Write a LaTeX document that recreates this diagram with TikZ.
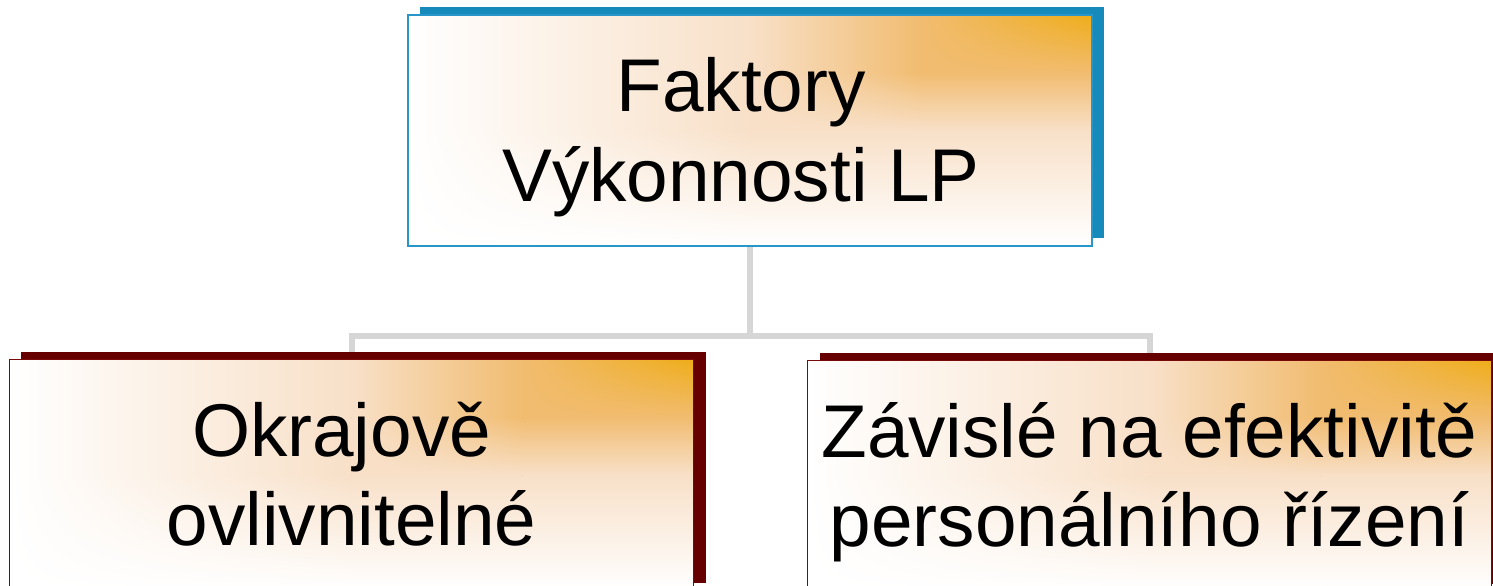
\documentclass[tikz,border=0pt]{standalone}
\usepackage{fontspec}
\setmainfont{Liberation Sans}
\usetikzlibrary{calc,shadows,shadings,backgrounds}

\definecolor{blueshade}{RGB}{22,138,187}
\definecolor{blueline}{RGB}{40,150,200}
\definecolor{redshade}{RGB}{102,0,0}
\definecolor{redline}{RGB}{120,10,10}
\definecolor{glow0}{RGB}{255,255,255}
\definecolor{glow1}{RGB}{248,224,200}
\definecolor{glow2}{RGB}{241,188,112}
\definecolor{glow3}{RGB}{239,173,25}
\definecolor{linkgray}{RGB}{214,214,214}

\newcommand\boxfont{\fontsize{75}{90}\selectfont}
\newcommand\boxstrut{\rule[-15.9bp]{0pt}{83.8bp}}
% warm glow from the upper right corner (3x3 patches)
\newcommand\glowfill{%
  \coordinate (gsw) at (path picture bounding box.south west);
  \coordinate (gne) at (path picture bounding box.north east);
  \foreach \k/\f in {0/0, 1/0.5, 2/0.75, 3/1}
    \coordinate (g\k) at ($(gsw)!\f!(gne)$);
  \foreach \i in {0,1,2}
    \foreach \j in {0,1,2} {
      \pgfmathtruncatemacro\ii{\i+1}
      \pgfmathtruncatemacro\jj{\j+1}
      \pgfmathtruncatemacro\cll{min(\i,\j)}
      \pgfmathtruncatemacro\clr{min(\ii,\j)}
      \pgfmathtruncatemacro\cul{min(\i,\jj)}
      \pgfmathtruncatemacro\cur{min(\ii,\jj)}
      \shade[lower left=glow\cll, lower right=glow\clr, upper left=glow\cul, upper right=glow\cur]
        (g\i |- g\j) rectangle (g\ii |- g\jj);
    }}

\tikzset{
  factorbox/.style={rectangle, inner sep=0pt, minimum width=684bp, minimum height=231bp,
    align=center, font=\boxfont, text=black, path picture={\glowfill}},
  topbox/.style={factorbox, draw=blueline, line width=2bp,
    general shadow={fill=blueshade, shadow xshift=12bp, shadow yshift=8bp}},
  subbox/.style={factorbox, draw=redline, line width=1.5bp,
    general shadow={fill=redshade, shadow xshift=12bp, shadow yshift=8bp}},
  link/.style={draw=linkgray, line width=6bp},
}

\begin{document}
\begin{tikzpicture}[x=1bp,y=-1bp]
\useasboundingbox (0,0) rectangle (1493,586);
\clip (0,0) rectangle (1493,586);
% Main factor
\node[topbox] (factors) at (750,130.5)
  {\boxstrut Faktory\hspace*{18bp}\\\boxstrut Výkonnosti LP\hspace*{18bp}};

% Two groups
\node[subbox] (marginal) at (351.5,475) {\boxstrut Okrajově\hspace*{20bp}\\\boxstrut ovlivnitelné};
\node[subbox] (managed) at (1149.5,476) {\boxstrut Závislé na efektivitě\\\boxstrut personálního řízení};

% Connectors (behind the boxes)
\coordinate (fork) at (750,336);
\begin{scope}[on background layer]
\draw[link] (factors) -- (fork) -| (marginal);
\draw[link] (fork) -| (managed);
\end{scope}
\end{tikzpicture}
\end{document}
